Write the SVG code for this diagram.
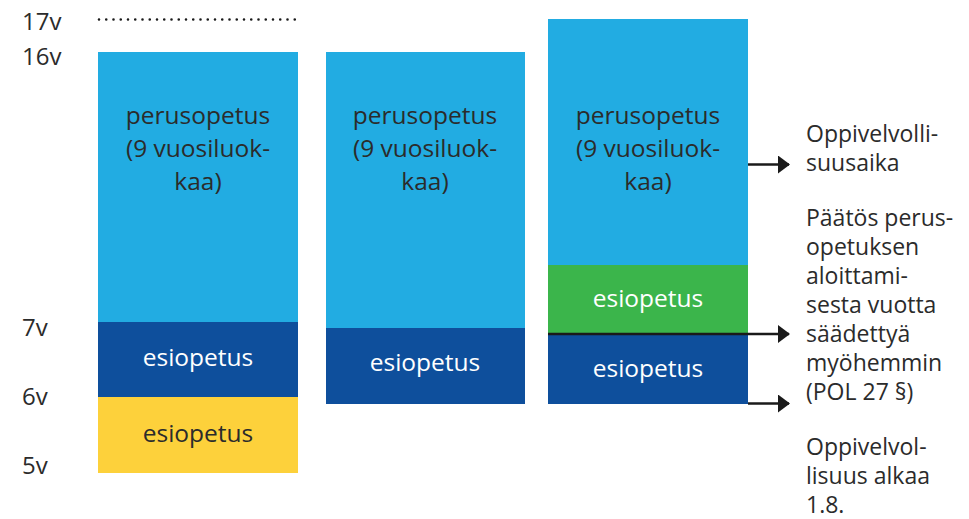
<svg xmlns="http://www.w3.org/2000/svg" width="969" height="519" viewBox="0 0 969 519">
<defs>
<style>
text{font-family:"Open Sans","Noto Sans","DejaVu Sans",sans-serif;font-size:23px;fill:#2b2b2b}
.ax{font-size:24px}
.c{text-anchor:middle;font-size:24.5px}
.w{fill:#ffffff}
.lb{fill:#22ace2}.db{fill:#0e4f9c}.ye{fill:#fdd13b}.gr{fill:#3bb54b}
.conn{stroke:#1a1a1a;stroke-width:2.5;fill:none}
</style>
<marker id="ah" markerWidth="12" markerHeight="18" refX="11" refY="9" orient="auto" markerUnits="userSpaceOnUse" viewBox="0 0 12 18">
<path d="M0,0 L12,9 L0,18 z" fill="#1a1a1a"/>
</marker>
</defs>
<g id="axis">
<text class="ax" x="22" y="30">17v</text>
<text class="ax" x="22" y="65">16v</text>
<text class="ax" x="22" y="336">7v</text>
<text class="ax" x="22" y="405">6v</text>
<text class="ax" x="22" y="474">5v</text>
<line x1="99" y1="19.5" x2="302" y2="19.5" stroke="#1a1a1a" stroke-width="2.6" stroke-dasharray="0 7.25" stroke-linecap="round"/>
</g>
<g id="col1">
<rect class="lb" x="98" y="52" width="200" height="270"/>
<rect class="db" x="98" y="322" width="200" height="75"/>
<rect class="ye" x="98" y="397" width="200" height="76"/>
<text class="c" x="198" y="124">perusopetus</text>
<text class="c" x="198" y="157">(9 vuosiluok-</text>
<text class="c" x="198" y="190">kaa)</text>
<text class="c w" x="198" y="366">esiopetus</text>
<text class="c" x="198" y="442">esiopetus</text>
</g>
<g id="col2">
<rect class="lb" x="326" y="52" width="199" height="276"/>
<rect class="db" x="326" y="328" width="199" height="76"/>
<text class="c" x="425" y="124">perusopetus</text>
<text class="c" x="425" y="157">(9 vuosiluok-</text>
<text class="c" x="425" y="190">kaa)</text>
<text class="c w" x="425" y="371">esiopetus</text>
</g>
<g id="col3">
<rect class="lb" x="548" y="19" width="200" height="246"/>
<rect class="gr" x="548" y="265" width="200" height="69"/>
<rect class="db" x="548" y="334" width="200" height="70"/>
<text class="c" x="648" y="124">perusopetus</text>
<text class="c" x="648" y="157">(9 vuosiluok-</text>
<text class="c" x="648" y="190">kaa)</text>
<text class="c w" x="648" y="307">esiopetus</text>
<text class="c w" x="648" y="377">esiopetus</text>
</g>
<g id="connectors">
<line class="conn" x1="748" y1="164.5" x2="789" y2="164.5" marker-end="url(#ah)"/>
<line class="conn" x1="548" y1="334" x2="789" y2="334" marker-end="url(#ah)"/>
<line class="conn" x1="748" y1="403.5" x2="789" y2="403.5" marker-end="url(#ah)"/>
</g>
<g id="notes">
<text x="806" y="142">Oppivelvolli-</text>
<text x="806" y="171">suusaika</text>
<text x="806" y="226">Päätös perus-</text>
<text x="806" y="255">opetuksen</text>
<text x="806" y="284">aloittami-</text>
<text x="806" y="313">sesta vuotta</text>
<text x="806" y="342">säädettyä</text>
<text x="806" y="371">myöhemmin</text>
<text x="806" y="400">(POL 27 §)</text>
<text x="806" y="455">Oppivelvol-</text>
<text x="806" y="484">lisuus alkaa</text>
<text x="806" y="513">1.8.</text>
</g>
</svg>
